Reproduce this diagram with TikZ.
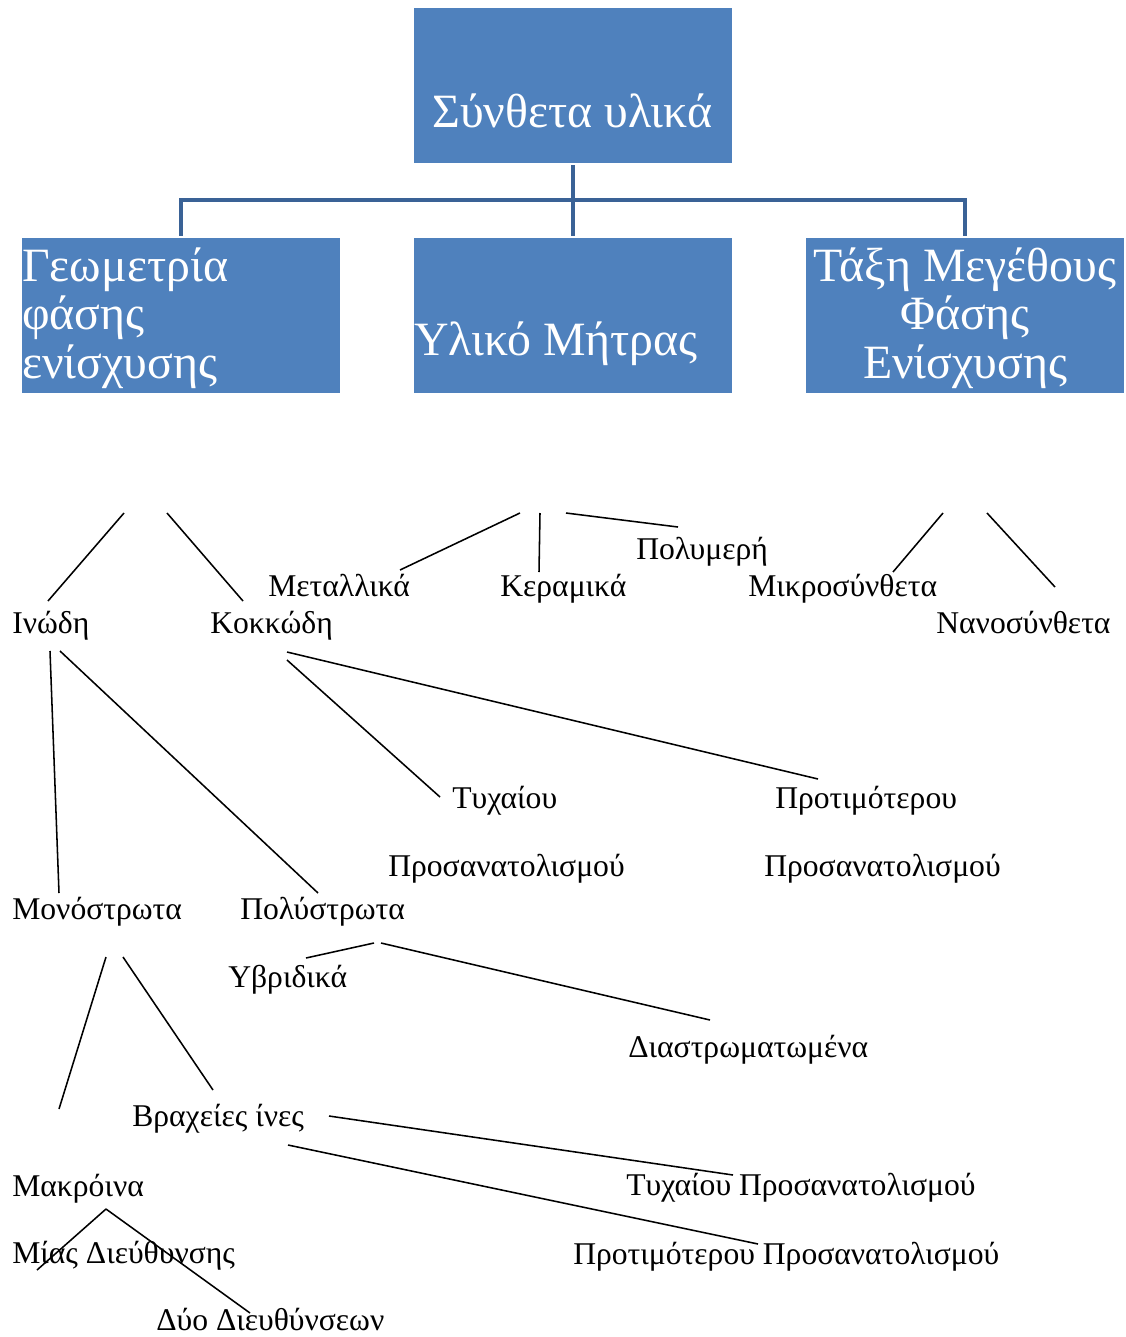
\documentclass[tikz,border=0pt]{standalone}
\usepackage{fontspec}
\setmainfont{Liberation Serif}
\usepackage{tikz}
\definecolor{boxblue}{RGB}{79,129,189}
\definecolor{linkblue}{RGB}{58,98,150}
\tikzset{
  font={\fontsize{22.5pt}{26pt}\selectfont},
  box/.style={rectangle, fill=boxblue, draw=none, minimum width=7.95cm, minimum height=3.875cm},
  boxtext/.style={text=white, font={\fontsize{34pt}{34.5pt}\selectfont}},
  lbl/.style={anchor=base west},
  link/.style={draw=linkblue, line width=3.5pt},
  leg/.style={black, line width=1.1pt}}
\begin{document}
\begin{tikzpicture}[scale=0.25]
\tikzstyle{every node}+=[inner sep=0pt]
\useasboundingbox (0,0) rectangle (112.6,-133.7);
\node [box] (root) at (57.3,-8.55) {};
\node [box] (geom) at (18.1,-31.55) {};
\node [box] (matrix) at (57.3,-31.55) {};
\node [box] (size) at (96.5,-31.55) {};
\node [boxtext, anchor=base] (roottext) at (57.25,-12.7) {Σύνθετα υλικά};
\node [boxtext, anchor=base west, align=left] (geomtext) at (2.2,-37.8) {Γεωμετρία\\φάσης\\ενίσχυσης};
\node [boxtext, anchor=base west] (matrixtext) at (41.4,-35.5) {Υλικό Μήτρας};
\node [boxtext, anchor=base, align=center] (sizetext) at (96.5,-37.8) {Τάξη Μεγέθους\\Φάσης\\Ενίσχυσης};
\coordinate (hub) at (57.3,-20.0);
\draw [link] ([yshift=-0.175cm]root.south) -- ([yshift=0.2cm]matrix.north);
\draw [link] ([yshift=0.2cm]geom.north) |- (hub) -| ([yshift=0.2cm]size.north);

\node [lbl] (inodi) at (1.2,-63.3) {Ινώδη};
\node [lbl] (kokkodi) at (21.0,-63.3) {Κοκκώδη};
\node [lbl] (metal) at (26.8,-59.6) {Μεταλλικά};
\node [lbl] (keram) at (50.0,-59.6) {Κεραμικά};
\node [lbl] (polym) at (63.6,-55.9) {Πολυμερή};
\node [lbl] (micro) at (74.8,-59.6) {Μικροσύνθετα};
\node [lbl] (nano) at (93.6,-63.3) {Νανοσύνθετα};
\node [lbl] (tyx) at (45.2,-80.8) {Τυχαίου};
\node [lbl] (tyxpros) at (38.8,-87.6) {Προσανατολισμού};
\node [lbl] (prot) at (77.5,-80.8) {Προτιμότερου};
\node [lbl] (protpros) at (76.4,-87.6) {Προσανατολισμού};
\node [lbl] (mono) at (1.2,-91.9) {Μονόστρωτα};
\node [lbl] (poly) at (24.0,-91.9) {Πολύστρωτα};
\node [lbl] (hybrid) at (22.8,-98.7) {Υβριδικά};
\node [lbl] (layered) at (62.8,-105.7) {Διαστρωματωμένα};
\node [lbl] (short) at (13.2,-112.6) {Βραχείες ίνες};
\node [lbl] (long) at (1.2,-119.6) {Μακρόινα};
\node [lbl] (shortrand) at (62.6,-119.5) {Τυχαίου Προσανατολισμού};
\node [lbl] (onedir) at (1.2,-126.3) {Μίας Διεύθυνσης};
\node [lbl] (shortpref) at (57.3,-126.4) {Προτιμότερου Προσανατολισμού};
\node [lbl] (twodir) at (15.6,-133.0) {Δύο Διευθύνσεων};

\coordinate (geo-l) at (12.4,-51.3);
\coordinate (geo-r) at (16.7,-51.3);
\coordinate (inodi-up) at (4.8,-60.1);
\coordinate (kokkodi-up) at (24.3,-60.1);
\coordinate (mat-l) at (52.0,-51.3);
\coordinate (mat-m) at (54.0,-51.3);
\coordinate (mat-r) at (56.6,-51.3);
\coordinate (metal-up) at (40.0,-57.0);
\coordinate (keram-up) at (53.9,-57.2);
\coordinate (polym-up) at (67.8,-52.7);
\coordinate (siz-l) at (94.3,-51.3);
\coordinate (siz-r) at (98.7,-51.3);
\coordinate (micro-up) at (89.3,-57.2);
\coordinate (nano-up) at (105.5,-58.7);
\coordinate (inodi-l) at (5.0,-65.1);
\coordinate (inodi-r) at (6.0,-65.1);
\coordinate (mono-up) at (5.9,-89.3);
\coordinate (poly-up) at (31.8,-89.3);
\coordinate (kokkodi-r) at (28.7,-65.2);
\coordinate (kokkodi-l) at (28.7,-66.0);
\coordinate (prot-up) at (81.8,-77.9);
\coordinate (tyx-up) at (44.0,-79.7);
\coordinate (mono-l) at (10.6,-95.7);
\coordinate (mono-r) at (12.3,-95.7);
\coordinate (long-up) at (5.9,-110.9);
\coordinate (short-up) at (21.3,-109.0);
\coordinate (poly-l) at (37.4,-94.3);
\coordinate (poly-r) at (38.1,-94.3);
\coordinate (hybrid-up) at (30.6,-95.8);
\coordinate (layered-up) at (71.0,-102.0);
\coordinate (short-r) at (32.9,-111.6);
\coordinate (short-d) at (28.8,-114.5);
\coordinate (shortrand-up) at (73.3,-117.5);
\coordinate (shortpref-up) at (75.8,-124.4);
\coordinate (long-d) at (10.6,-120.9);
\coordinate (onedir-up) at (3.7,-127.0);
\coordinate (twodir-up) at (25.0,-131.3);

\draw [leg] (geo-l) -- (inodi-up);
\draw [leg] (geo-r) -- (kokkodi-up);
\draw [leg] (mat-l) -- (metal-up);
\draw [leg] (mat-m) -- (keram-up);
\draw [leg] (mat-r) -- (polym-up);
\draw [leg] (siz-l) -- (micro-up);
\draw [leg] (siz-r) -- (nano-up);
\draw [leg] (inodi-l) -- (mono-up);
\draw [leg] (inodi-r) -- (poly-up);
\draw [leg] (kokkodi-r) -- (prot-up);
\draw [leg] (kokkodi-l) -- (tyx-up);
\draw [leg] (mono-l) -- (long-up);
\draw [leg] (mono-r) -- (short-up);
\draw [leg] (poly-l) -- (hybrid-up);
\draw [leg] (poly-r) -- (layered-up);
\draw [leg] (short-r) -- (shortrand-up);
\draw [leg] (short-d) -- (shortpref-up);
\draw [leg] (long-d) -- (onedir-up);
\draw [leg] (long-d) -- (twodir-up);
\end{tikzpicture}
\end{document}
